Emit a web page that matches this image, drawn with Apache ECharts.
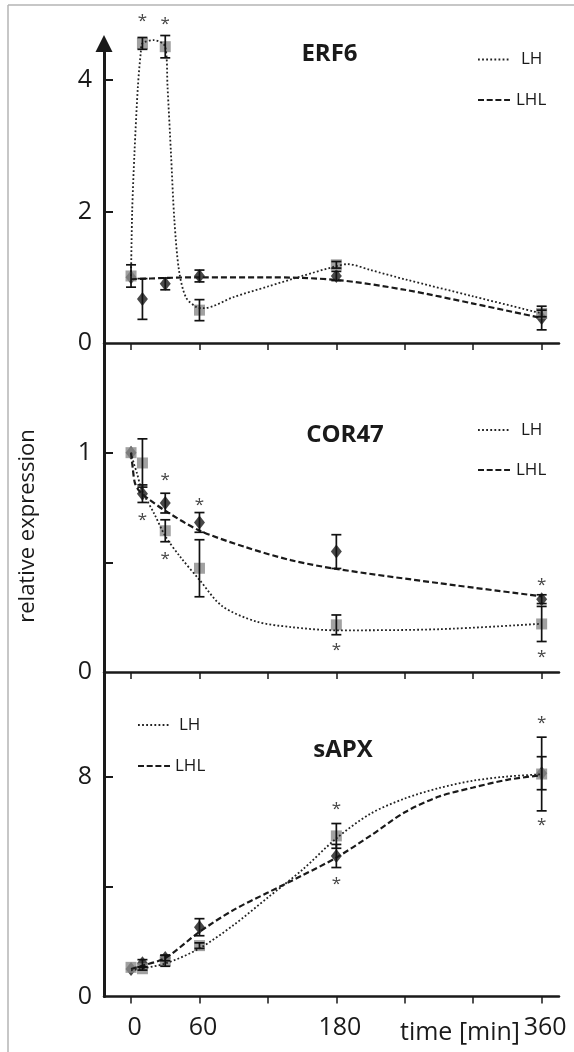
<!DOCTYPE html>
<html><head><meta charset="utf-8">
<script src="https://cdn.jsdelivr.net/npm/echarts@6/dist/echarts.min.js"></script>
<style>html,body{margin:0;padding:0;background:#fff}#c{width:574px;height:1052px}</style>
</head><body><div id="c"></div>
<script>
// ---------- data ----------
const times = [0, 10, 30, 60, 180, 360];
const xTicks = [0, 60, 120, 180, 240, 300, 360];
const xLabels = [0, 60, 180, 360];
const genes = ['ERF6', 'COR47', 'sAPX'];

// ERF6
const erf6LH = [1.02, 4.56, 4.51, 0.50, 1.19, 0.45];
const erf6LHErr = [0.17, 0.09, 0.17, 0.16, 0.05, 0.05];
const erf6LHL = [1.0, 0.67, 0.90, 1.02, 1.02, 0.38];
const erf6LHLErr = [0, 0.31, 0.09, 0.09, 0.07, 0.18];
const erf6FitLHt = [0, 1, 3, 6, 8.5, 10, 20, 30, 32, 35, 38, 42, 48, 57, 64, 90, 120, 150, 180, 190, 210, 240, 300, 360];
const erf6FitLHv = [1.02, 2.0, 2.89, 3.90, 4.41, 4.56, 4.61, 4.51, 3.90, 2.89, 1.87, 1.11, 0.70, 0.55, 0.53, 0.70, 0.86, 1.02, 1.17, 1.20, 1.11, 0.97, 0.71, 0.45];
const erf6FitLHLt = [0, 30, 60, 120, 180, 240, 300, 360];
const erf6FitLHLv = [0.97, 0.99, 1.0, 1.0, 0.96, 0.81, 0.60, 0.38];
const erf6Stars = [[10, 4.96], [30, 4.92]];

// COR47
const cor47LH = [1.0, 0.953, 0.644, 0.473, 0.215, 0.219];
const cor47LHErr = [0, 0.11, 0.05, 0.13, 0.045, 0.08];
const cor47LHL = [1.0, 0.813, 0.770, 0.682, 0.549, 0.332];
const cor47LHLErr = [0, 0.04, 0.045, 0.045, 0.077, 0.02];
const cor47FitLHt = [0, 2.5, 5, 9.4, 20, 30, 43, 60, 80, 110, 140, 180, 270, 360];
const cor47FitLHv = [1.0, 0.95, 0.91, 0.83, 0.725, 0.62, 0.526, 0.42, 0.30, 0.23, 0.205, 0.19, 0.195, 0.22];
const cor47FitLHLt = [0, 1.5, 3.5, 8, 15, 30, 60, 100, 140, 180, 270, 360];
const cor47FitLHLv = [1.0, 0.93, 0.86, 0.82, 0.79, 0.735, 0.645, 0.57, 0.51, 0.47, 0.405, 0.345];
const cor47Stars = [[10, 0.709], [30, 0.892], [30, 0.534], [60, 0.781], [180, 0.116], [360, 0.412], [360, 0.088]];

// sAPX
const sapxLH = [1.06, 1.01, 1.30, 1.85, 5.84, 8.09];
const sapxLHErr = [0, 0.05, 0.2, 0.1, 0.45, 1.34];
const sapxLHL = [1.0, 1.21, 1.40, 2.52, 5.11, 8.12];
const sapxLHLErr = [0, 0.13, 0.1, 0.31, 0.42, 0.6];
const sapxFitLHt = [0, 30, 60, 90, 120, 150, 180, 210, 240, 270, 300, 330, 360];
const sapxFitLHv = [0.95, 1.2, 1.75, 2.6, 3.6, 4.6, 5.75, 6.65, 7.2, 7.58, 7.85, 8.0, 8.08];
const sapxFitLHLt = [0, 10, 30, 60, 90, 120, 150, 180, 210, 240, 270, 300, 330, 360];
const sapxFitLHLv = [1.0, 1.12, 1.4, 2.35, 3.15, 3.78, 4.4, 5.05, 5.85, 6.7, 7.27, 7.6, 7.88, 8.05];
const sapxStars = [[180, 6.95], [180, 4.24], [360, 10.09], [360, 6.39]];

const yMax = [4.56, 1.5, 11.8];
const yTicks = [[2, 4], [0.5, 1], [4, 8]];
const yLabels = [[0, 2, 4], [0, 1], [0, 8]];

// ---------- helpers ----------
const FONT = 'Open Sans';
const INK = '#1a1a1a';
const zip = (a, b) => a.map((v, i) => [v, b[i]]);

function errSeries(k, t, v, e) {
  return {
    type: 'custom', xAxisIndex: k, yAxisIndex: k, clip: false, z: 5, silent: true,
    data: t.map((tt, i) => [tt, v[i], e[i]]).filter(d => d[2] > 0),
    renderItem(params, api) {
      const x = api.value(0), y = api.value(1), er = api.value(2);
      const top = api.coord([x, y + er]), bot = api.coord([x, y - er]);
      const hw = 5, st = {stroke: '#111', lineWidth: 1.7};
      return {type: 'group', children: [
        {type: 'line', shape: {x1: top[0], y1: top[1], x2: bot[0], y2: bot[1]}, style: st},
        {type: 'line', shape: {x1: top[0] - hw, y1: top[1], x2: top[0] + hw, y2: top[1]}, style: st},
        {type: 'line', shape: {x1: bot[0] - hw, y1: bot[1], x2: bot[0] + hw, y2: bot[1]}, style: st}
      ]};
    }
  };
}
function starSeries(k, pts) {
  return {
    type: 'custom', xAxisIndex: k, yAxisIndex: k, clip: false, z: 6, silent: true,
    data: pts,
    renderItem(params, api) {
      const c = api.coord([api.value(0), api.value(1)]);
      return {type: 'text', x: c[0], y: c[1] + 4, style: {
        text: '*', fill: '#444', font: '17px "' + FONT + '"',
        align: 'center', verticalAlign: 'middle', textAlign: 'center', textVerticalAlign: 'middle'}};
    }
  };
}
function fitSeries(k, name, t, v, dotted) {
  return {
    type: 'line', name: name, xAxisIndex: k, yAxisIndex: k, data: zip(t, v),
    smooth: 0.3, symbol: 'none', showSymbol: false, clip: false, z: 4, silent: true,
    lineStyle: dotted ? {type: [1.8, 2.2], width: 1.8, color: '#222'} : {type: [6, 3], width: 2.2, color: '#1a1a1a'}
  };
}
function ptSeries(k, name, v, isLH) {
  return {
    type: 'scatter', name: name, xAxisIndex: k, yAxisIndex: k, data: zip(times, v), clip: false,
    symbol: isLH ? 'rect' : 'diamond', symbolSize: isLH ? 11 : [11, 14],
    itemStyle: {color: isLH ? '#8a8a8a' : '#1a1a1a'}, z: isLH ? 3 : 2, silent: true
  };
}

const panels = [
  {LH: erf6LH, LHe: erf6LHErr, LHL: erf6LHL, LHLe: erf6LHLErr, fLHt: erf6FitLHt, fLHv: erf6FitLHv, fLHLt: erf6FitLHLt, fLHLv: erf6FitLHLv, stars: erf6Stars},
  {LH: cor47LH, LHe: cor47LHErr, LHL: cor47LHL, LHLe: cor47LHLErr, fLHt: cor47FitLHt, fLHv: cor47FitLHv, fLHLt: cor47FitLHLt, fLHLv: cor47FitLHLv, stars: cor47Stars},
  {LH: sapxLH, LHe: sapxLHErr, LHL: sapxLHL, LHLe: sapxLHLErr, fLHt: sapxFitLHt, fLHv: sapxFitLHv, fLHLt: sapxFitLHLt, fLHLv: sapxFitLHLv, stars: sapxStars}
];

// layout (pixels)
const gridBoxes = [
  {left: 104, width: 455, top: 43.4, height: 299.6},
  {left: 104, width: 455, top: 343, height: 329},
  {left: 104, width: 455, top: 672, height: 324.5}
];

const series = [];
panels.forEach((p, k) => {
  series.push(fitSeries(k, 'LHL', p.fLHLt, p.fLHLv, false));
  series.push(fitSeries(k, 'LH', p.fLHt, p.fLHv, true));
  series.push(ptSeries(k, 'LHL', p.LHL, false));
  series.push(ptSeries(k, 'LH', p.LH, true));
  series.push(errSeries(k, times, p.LHL, p.LHLe));
  series.push(errSeries(k, times, p.LH, p.LHe));
  series.push(starSeries(k, p.stars));
});

const xAxes = [0, 1, 2].map(k => ({
  gridIndex: k, type: 'value', min: -23.7, max: 375.2,
  axisLine: {show: true, onZero: false, lineStyle: {color: INK, width: 2.5}},
  axisTick: {show: true, inside: false, length: 7, customValues: xTicks, lineStyle: {color: INK, width: 1.5}},
  axisLabel: {show: k === 2, customValues: xLabels, margin: 19, fontSize: 25, color: INK, fontFamily: FONT, padding: [0, 0, 0, 7]},
  splitLine: {show: false}
}));
const yAxes = [0, 1, 2].map(k => ({
  gridIndex: k, type: 'value', min: 0, max: yMax[k],
  axisLine: {show: true, onZero: false, symbol: k === 0 ? ['none', 'triangle'] : ['none', 'none'], symbolSize: [17, 17],
    lineStyle: {color: INK, width: 3}},
  axisTick: {show: true, inside: true, length: 9, customValues: yTicks[k], lineStyle: {color: INK, width: 2}},
  axisLabel: {show: true, customValues: yLabels[k], margin: 12, fontSize: 25, color: INK, fontFamily: FONT},
  splitLine: {show: false}
}));

// legend + text graphics
function legend(x, yLH, yLHL, txLH, txLHL) {
  return [
    {type: 'line', shape: {x1: x, y1: yLH, x2: x + 32, y2: yLH}, style: {stroke: '#222', lineWidth: 1.8, lineDash: [1.8, 2.3]}},
    {type: 'text', x: txLH, y: yLH, style: {text: 'LH', font: '17px "' + FONT + '"', fill: INK, textVerticalAlign: 'middle', verticalAlign: 'middle'}},
    {type: 'line', shape: {x1: x, y1: yLHL, x2: x + 32, y2: yLHL}, style: {stroke: '#1a1a1a', lineWidth: 2.2, lineDash: [6, 2.7]}},
    {type: 'text', x: txLHL, y: yLHL, style: {text: 'LHL', font: '17px "' + FONT + '"', fill: INK, textVerticalAlign: 'middle', verticalAlign: 'middle'}}
  ];
}
function centered(text, x, y, font, rot) {
  return {type: 'text', x: x, y: y, rotation: rot || 0, style: {text: text, font: font, fill: INK,
    textAlign: 'center', align: 'center', textVerticalAlign: 'middle', verticalAlign: 'middle'}};
}
const graphics = [
  {type: 'line', shape: {x1: 8, y1: 5, x2: 574, y2: 5}, style: {stroke: '#b5b5b5', lineWidth: 1.5}},
  {type: 'line', shape: {x1: 8, y1: 5, x2: 8, y2: 1052}, style: {stroke: '#b5b5b5', lineWidth: 1.5}},
  centered(genes[0], 329.5, 54, 'bold 24px "' + FONT + '"'),
  centered(genes[1], 345, 435, 'bold 24px "' + FONT + '"'),
  centered(genes[2], 343, 750, 'bold 24px "' + FONT + '"'),
  centered('relative expression', 28, 526, '22px "' + FONT + '"', Math.PI / 2),
  centered('time [min]', 460, 1033, '25px "' + FONT + '"')
].concat(legend(478, 59.5, 100, 521, 516), legend(478, 430, 470, 521, 516), legend(138, 725, 766, 179, 175));

const chart = echarts.init(document.getElementById('c'), null, {renderer: 'canvas'});
chart.setOption({
  animation: false,
  backgroundColor: '#fff',
  textStyle: {fontFamily: FONT},
  grid: gridBoxes.map(g => Object.assign({containLabel: false}, g)),
  xAxis: xAxes,
  yAxis: yAxes,
  series: series,
  graphic: graphics
});
</script></body></html>
